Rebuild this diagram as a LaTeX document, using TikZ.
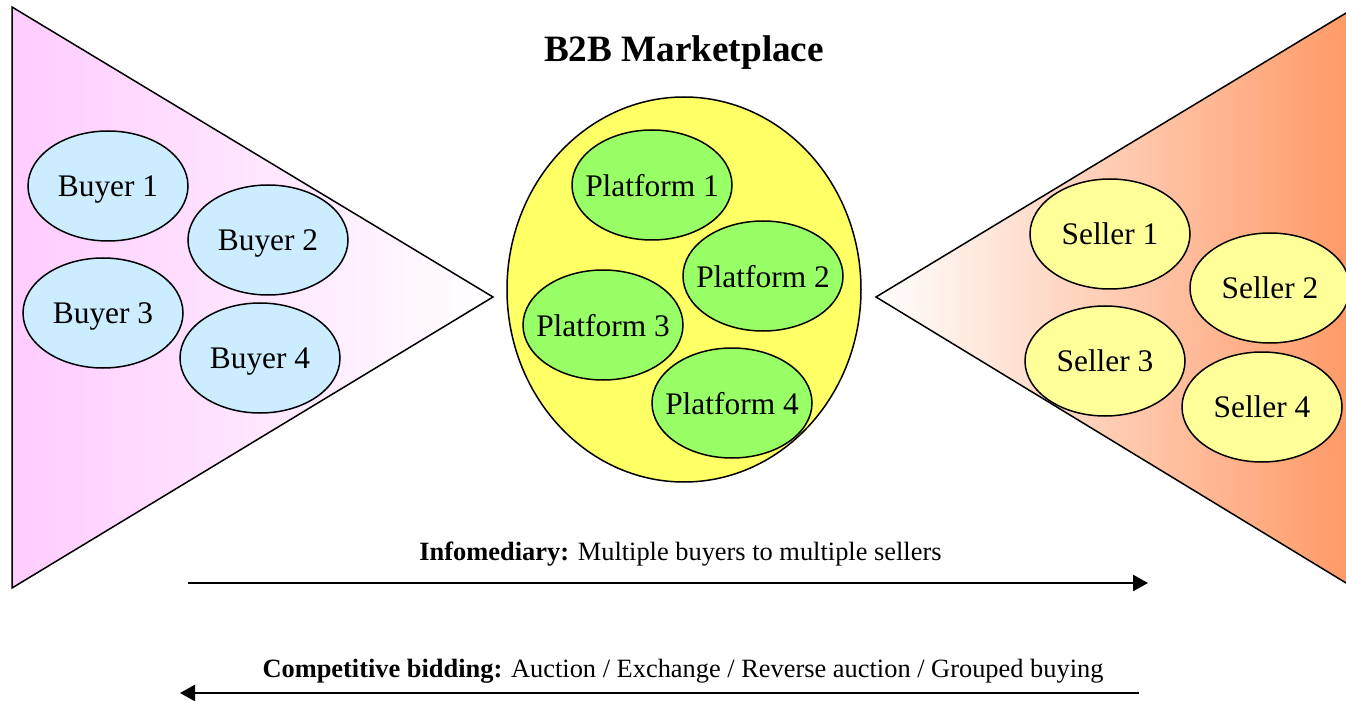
\documentclass[tikz,border=0pt]{standalone}
\usepackage{fontspec}
\setmainfont{Liberation Serif}
\usetikzlibrary{shapes.geometric,arrows.meta}
\definecolor{pinkc}{HTML}{FFCCFF}
\definecolor{orangec}{HTML}{FF9966}
\definecolor{buyerc}{HTML}{CCECFF}
\definecolor{sellerc}{HTML}{FFFF99}
\definecolor{platc}{HTML}{99FF66}
\definecolor{marketc}{HTML}{FFFF66}
\begin{document}
\begin{tikzpicture}[x=0.5pt,y=-0.5pt,
  oval/.style={ellipse, draw=black, line width=0.75pt, minimum width=80pt, minimum height=55pt,
    inner xsep=-8pt, inner ysep=0pt, text depth=0pt, font=\fontsize{15.7}{18}\selectfont},
  buyer/.style={oval, fill=buyerc},
  seller/.style={oval, fill=sellerc},
  plat/.style={oval, fill=platc},
  flow/.style={line width=1.3pt, -{Triangle[length=7.5pt,width=8pt]}},
  caption/.style={font=\fontsize{13.2}{16}\selectfont, inner sep=0pt, anchor=base},
  funnel/.style={draw=black, line width=0.75pt}
]
\clip (0,0) rectangle (1346,701);
\fill[white] (0,0) rectangle (1346,701);
% buyer funnel
\draw[funnel, left color=pinkc, right color=white] (12,7) -- (12,588) -- (493,297) -- cycle;
% seller funnel
\draw[funnel, left color=white, right color=orangec] (1351,10) -- (876,297) -- (1351,586) -- cycle;
% marketplace
\node[ellipse, draw=black, line width=0.75pt, fill=marketc, minimum width=177pt, minimum height=192.5pt, inner sep=0pt] (market) at (684,289.5) {};
\node[font=\bfseries\fontsize{18.6}{22}\selectfont, inner sep=0pt, anchor=base] (title) at (684,62) {B2B Marketplace};
% buyers
\node[buyer] (b1) at (108,186) {Buyer 1};
\node[buyer] (b2) at (268,240) {Buyer 2};
\node[buyer] (b3) at (103,313) {Buyer 3};
\node[buyer] (b4) at (260,358) {Buyer 4};
% platforms
\node[plat] (p1) at (652,185) {Platform 1};
\node[plat] (p2) at (763,276) {Platform 2};
\node[plat] (p3) at (603,325) {Platform 3};
\node[plat] (p4) at (732,403) {Platform 4};
% sellers
\node[seller] (s1) at (1110,234) {Seller 1};
\node[seller] (s2) at (1270,288) {Seller 2};
\node[seller] (s3) at (1105,361) {Seller 3};
\node[seller] (s4) at (1262,407) {Seller 4};
% flows
\node[caption] (info) at (680.5,560) {\textbf{Infomediary:} Multiple buyers to multiple sellers};
\coordinate (i1) at (188,583);
\coordinate (i2) at (1148,583);
\draw[flow] (i1) -- (i2);
\node[caption] (comp) at (683,677) {\textbf{Competitive bidding:} Auction / Exchange / Reverse auction / Grouped buying};
\coordinate (c1) at (1139,693);
\coordinate (c2) at (180,693);
\draw[flow] (c1) -- (c2);
\end{tikzpicture}
\end{document}
